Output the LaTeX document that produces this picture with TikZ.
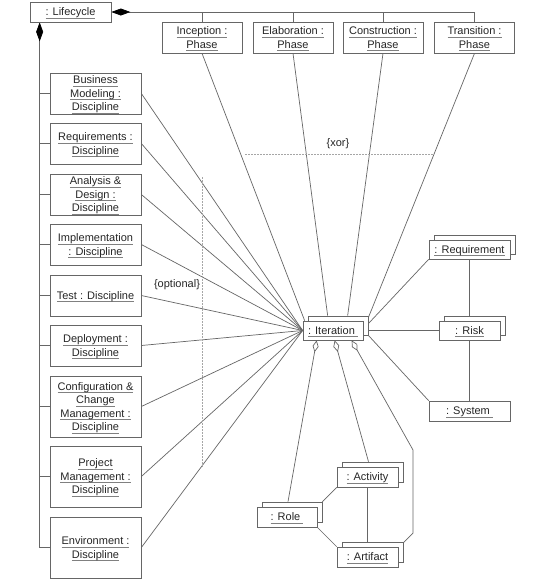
\documentclass[tikz,border=0pt]{standalone}
\usepackage{fontspec}
\setmainfont{Liberation Sans}
\usetikzlibrary{arrows.meta,shadows,backgrounds,calc}
\newcommand\uln[1]{\setbox0=\hbox{#1}\setbox2=\hbox{\rlap{\textcolor{black!50}{\rule[-2.4pt]{\wd0}{0.6pt}}}\copy0}\dp2=0pt\leavevmode\box2}
\begin{document}
\begin{tikzpicture}[x=1pt,y=-1pt,
  box/.style={draw=black!60, line width=0.7pt, fill=white, inner sep=0pt, align=center,
    text=black!85, font=\fontsize{11}{13.5}\selectfont},
  multi/.style={box, copy shadow={shadow xshift=5pt, shadow yshift=5pt, draw=black!60, fill=white, line width=0.7pt}},
  phase/.style={box, minimum width=80pt, minimum height=31pt},
  disc/.style={box, minimum width=91pt},
  conn/.style={draw=black!60, line width=0.7pt},
  comp/.style={{Diamond[length=19pt,width=7pt,color=black]}-},
  aggr/.style={{Diamond[open,fill=white,length=12pt,width=6pt]}-},
  guide/.style={draw=black!35, line width=0.8pt, dash pattern=on 1.5pt off 1.5pt},
  lbl/.style={text=black!85, font=\fontsize{11}{13.5}\selectfont, inner sep=0pt}
]
\useasboundingbox (0,0) rectangle (550,579);

% Lifecycle and phases
\node[box, minimum width=81pt, minimum height=20pt] (lc) at (70.5,12) {\uln{: Lifecycle}};
\node[phase] (inc) at (202,37.5) {\uln{Inception :}\\\uln{Phase}};
\node[phase] (ela) at (293,37.5) {\uln{Elaboration :}\\\uln{Phase}};
\node[phase] (con) at (383,37.5) {\uln{Construction :}\\\uln{Phase}};
\node[phase] (tra) at (474.5,37.5) {\uln{Transition :}\\\uln{Phase}};

% Disciplines
\node[disc, minimum height=41pt] (bm) at (95.5,93.5) {\uln{Business}\\\uln{Modeling :}\\\uln{Discipline}};
\node[disc, minimum height=41pt] (req) at (95.5,143.5) {\uln{Requirements :}\\\uln{Discipline}};
\node[disc, minimum height=41pt] (ad) at (95.5,194.5) {\uln{Analysis \&}\\\uln{Design :}\\\uln{Discipline}};
\node[disc, minimum height=41pt] (imp) at (95.5,244.5) {\uln{Implementation}\\\uln{: Discipline}};
\node[disc, minimum height=41pt] (tst) at (95.5,295.5) {\uln{Test : Discipline}};
\node[disc, minimum height=41pt] (dep) at (95.5,345.5) {\uln{Deployment :}\\\uln{Discipline}};
\node[disc, minimum height=61pt] (cfg) at (95.5,406.5) {\uln{Configuration \&}\\\uln{Change}\\\uln{Management :}\\\uln{Discipline}};
\node[disc, minimum height=61pt] (pm) at (95.5,476.5) {\uln{Project}\\\uln{Management :}\\\uln{Discipline}};
\node[disc, minimum height=61pt] (env) at (95.5,547.5) {\uln{Environment :}\\\uln{Discipline}};

% Right side objects
\node[multi, minimum width=60pt, minimum height=19pt] (it) at (333,330.5) {\uln{: Iteration\ }};
\node[multi, minimum width=81pt, minimum height=19pt] (rq) at (469.5,249.5) {\uln{: Requirement}};
\node[multi, minimum width=61pt, minimum height=19pt] (rk) at (469.5,330.5) {\uln{: Risk}};
\node[box, minimum width=81pt, minimum height=20pt] (sys) at (469.5,411) {\uln{: System\ }};
\node[multi, minimum width=61pt, minimum height=20pt] (act) at (367.5,477) {\uln{: Activity}};
\node[multi, minimum width=60pt, minimum height=20pt] (role) at (287,517) {\uln{: Role\ }};
\node[multi, minimum width=61pt, minimum height=20pt] (art) at (367.5,557) {\uln{: Artifact}};

% labels
\node[lbl] (xorl) at (338,144) {\{xor\}};
\node[lbl] (optl) at (177,285) {\{optional\}};

\begin{scope}[on background layer]
  \fill[white] (0,0) rectangle (550,579);
  % phase bus
  \coordinate (busR) at (474.5,12);
  \draw[conn, comp] (lc.east) -- (busR) -- (tra.north);
  \draw[conn] (inc.north) -- (inc.north |- busR);
  \draw[conn] (ela.north) -- (ela.north |- busR);
  \draw[conn] (con.north) -- (con.north |- busR);
  % discipline bus
  \coordinate (busT) at ($(lc.south west)+(10,0)$);
  \coordinate (busB) at (busT |- env.west);
  \draw[conn, comp] (busT) -- (busB);
  \foreach \n in {bm,req,ad,imp,tst,dep,cfg,pm,env}{
    \draw[conn] (\n.west) -- (\n.west -| busT);
    \draw[conn] (\n.east) -- (it.west);
  }
  % phases to iteration
  \draw[conn] (inc.south) -- ($(it.north west)+(2,0)$);
  \draw[conn] (ela.south) -- ($(it.north west)+(25,-5)$);
  \draw[conn] (con.south) -- ($(it.north west)+(45,-5)$);
  \draw[conn] (tra.south) -- ($(it.north east)+(5,-3)$);
  % iteration to right side
  \draw[conn] (rq.south west) -- ($(it.north east)+(5,3)$);
  \draw[conn] ($(it.east)+(5,0)$) -- (rk.west);
  \draw[conn] ($(it.south east)+(5,-5)$) -- (sys.north west);
  \draw[conn] (rq.south) -- (rk.north);
  \draw[conn] (rk.south) -- (sys.north);
  % aggregation
  \draw[conn, aggr] ($(it.south west)+(14,0)$) -- ($(role.north)+(1,-5)$);
  \draw[conn, aggr] ($(it.south west)+(32,0)$) -- ($(act.north)+(1,-5)$);
  \draw[conn, aggr] ($(it.south west)+(49,0)$) -- (413,450) -- (413,533) -- ($(art.north east)+(5,-4)$);
  \draw[conn] ($(role.north east)+(5,-5)$) -- (act.south west);
  \draw[conn] (role.south east) -- (art.north west);
  \draw[conn] (act.south) -- (art.north);
  % constraints
  \draw[guide] (245,154) -- (433,154);
  \draw[guide] (202,177) -- (202,468);
\end{scope}
\end{tikzpicture}
\end{document}
